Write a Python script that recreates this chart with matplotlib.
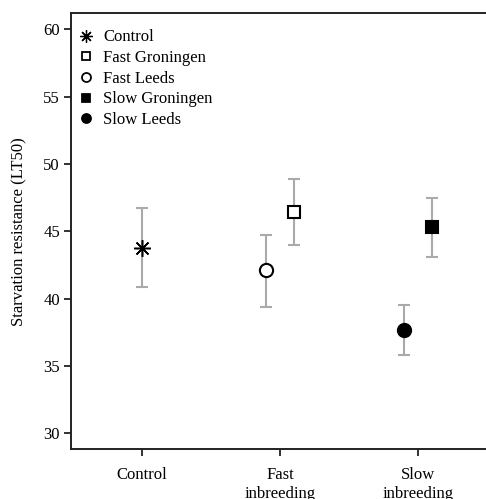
import matplotlib.pyplot as plt
from matplotlib.lines import Line2D

plt.rcParams['font.family'] = ['Liberation Serif', 'DejaVu Serif']

categories = ['Control', 'Fast\ninbreeding', 'Slow\ninbreeding']
series = ['Control', 'Fast Groningen', 'Fast Leeds', 'Slow Groningen', 'Slow Leeds']
group = [1, 2, 2, 3, 3]
offset = [0.0, 0.1, -0.1, 0.1, -0.1]
means = [43.8, 46.45, 42.1, 45.3, 37.7]
upper = [46.75, 48.9, 44.75, 47.5, 39.55]
lower = [40.9, 44.0, 39.4, 43.1, 35.85]

markers = [(8, 2, 0), 's', 'o', 's', 'o']
faces = ['black', 'white', 'white', 'black', 'black']
sizes = [12, 9, 9.5, 9, 9.5]
edge_w = [1.1, 1.5, 1.5, 1.5, 1.5]
leg_sizes = [9, 6, 6.5, 6, 6.5]

fig = plt.figure(figsize=(4.86, 4.99), dpi=100)
ax = fig.add_axes([71 / 486, 0.0996, 1 - 71 / 486, 0.8737])

for i, name in enumerate(series):
    x = group[i] + offset[i]
    ax.errorbar(x, means[i], yerr=[[means[i] - lower[i]], [upper[i] - means[i]]],
                fmt='none', ecolor='#aaaaaa', elinewidth=1.5, capsize=4.5, capthick=1.5, zorder=2)
    ax.plot(x, means[i], marker=markers[i], markersize=sizes[i], markerfacecolor=faces[i],
            markeredgecolor='black', markeredgewidth=edge_w[i], linestyle='none', zorder=3)

handles = [Line2D([], [], marker=markers[i], markersize=leg_sizes[i], markerfacecolor=faces[i],
                  markeredgecolor='black', markeredgewidth=edge_w[i] * 0.85, linestyle='none')
           for i in range(len(series))]
ax.legend(handles, series, loc='upper left', frameon=False, fontsize=12,
          handletextpad=0.4, labelspacing=0.28, borderaxespad=0.3, handlelength=1.2,
          bbox_to_anchor=(-0.015, 0.99))

ax.set_xlim(0.488, 3.49)
ax.set_ylim(28.81, 61.2)
ax.set_xticks([1, 2, 3])
ax.set_xticklabels(categories, fontsize=12, va='top')
ax.set_yticks([30, 35, 40, 45, 50, 55, 60])
ax.tick_params(axis='both', labelsize=12, length=5, width=1.3, color='#222222', pad=3)
ax.tick_params(axis='x', pad=8)
ax.set_ylabel('Starvation resistance (LT50)', fontsize=12, labelpad=11)

ax.spines['right'].set_visible(False)
for s in ['left', 'top', 'bottom']:
    ax.spines[s].set_linewidth(1.4)
    ax.spines[s].set_color('#222222')

plt.savefig('out.png', dpi=100)
